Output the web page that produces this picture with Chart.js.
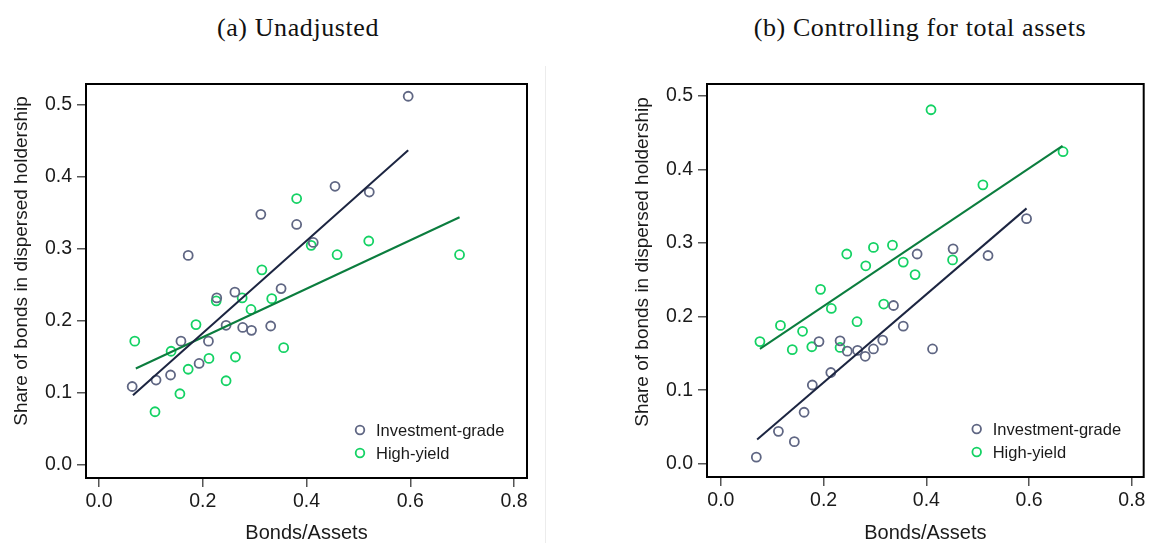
<!DOCTYPE html>
<html>
<head>
<meta charset="utf-8">
<script src="https://cdn.jsdelivr.net/npm/chart.js@4.4.1/dist/chart.umd.min.js"></script>
<style>
  html, body { margin: 0; padding: 0; background: #fff; }
  body { width: 1150px; height: 543px; position: relative; overflow: hidden; }
  .panel { position: absolute; top: 0; height: 543px; }
  .title { position: absolute; top: 10px; font-family: "Liberation Serif", serif; font-size: 26px;
           letter-spacing: 0.6px; color: #111; text-align: center; white-space: nowrap; line-height: 36px; }
  .sep { position: absolute; left: 545px; top: 66px; width: 1px; height: 477px; background: #ececec; }
</style>
</head>
<body>
<div class="title" style="left:148px;width:300px">(a) Unadjusted</div>
<div class="title" style="left:720px;width:400px">(b) Controlling for total assets</div>
<div class="sep"></div>
<div class="panel" style="left:0;width:545px"><canvas id="cA" width="545" height="543"></canvas></div>
<div class="panel" style="left:621px;width:529px"><canvas id="cB" width="529" height="543"></canvas></div>
<script>
// Axis ticks and labels
const xTickValues = [0, 0.2, 0.4, 0.6, 0.8];
const yTickValues = [0, 0.1, 0.2, 0.3, 0.4, 0.5];
const seriesNames = ['Investment-grade', 'High-yield'];
const xAxisTitle = 'Bonds/Assets';
const yAxisTitle = 'Share of bonds in dispersed holdership';

// (a) Unadjusted: binned Bonds/Assets vs. dispersed share
const igBondsAssetsA = [0.064, 0.110, 0.138, 0.158, 0.172, 0.193, 0.211, 0.227, 0.245, 0.262,
                        0.277, 0.294, 0.312, 0.331, 0.351, 0.381, 0.413, 0.455, 0.521, 0.596];
const igShareA       = [0.109, 0.118, 0.125, 0.172, 0.291, 0.141, 0.172, 0.232, 0.194, 0.240,
                        0.191, 0.187, 0.348, 0.193, 0.245, 0.334, 0.309, 0.387, 0.379, 0.512];
const hyBondsAssetsA = [0.069, 0.108, 0.139, 0.156, 0.172, 0.187, 0.212, 0.226, 0.245, 0.263,
                        0.276, 0.293, 0.314, 0.333, 0.356, 0.381, 0.409, 0.459, 0.520, 0.695];
const hyShareA       = [0.172, 0.074, 0.158, 0.099, 0.133, 0.195, 0.148, 0.228, 0.117, 0.150,
                        0.232, 0.216, 0.271, 0.231, 0.163, 0.370, 0.305, 0.292, 0.311, 0.292];
const igFitXA = [0.0655, 0.596];
const igFitYA = [0.097, 0.437];
const hyFitXA = [0.071, 0.695];
const hyFitYA = [0.134, 0.344];

// (b) Controlling for total assets
const igBondsAssetsB = [0.069, 0.112, 0.143, 0.162, 0.178, 0.191, 0.214, 0.232, 0.246, 0.266,
                        0.281, 0.297, 0.315, 0.336, 0.355, 0.382, 0.412, 0.452, 0.520, 0.595];
const igShareB       = [0.009, 0.044, 0.030, 0.070, 0.107, 0.166, 0.124, 0.167, 0.153, 0.154,
                        0.146, 0.156, 0.168, 0.215, 0.187, 0.285, 0.156, 0.292, 0.283, 0.333];
const hyBondsAssetsB = [0.076, 0.116, 0.139, 0.159, 0.177, 0.194, 0.215, 0.232, 0.245, 0.265,
                        0.282, 0.297, 0.317, 0.334, 0.355, 0.378, 0.409, 0.451, 0.510, 0.666];
const hyShareB       = [0.166, 0.188, 0.155, 0.180, 0.159, 0.237, 0.211, 0.158, 0.285, 0.193,
                        0.269, 0.294, 0.217, 0.297, 0.274, 0.257, 0.481, 0.277, 0.379, 0.424];
const igFitXB = [0.0706, 0.595];
const igFitYB = [0.033, 0.347];
const hyFitXB = [0.076, 0.665];
const hyFitYB = [0.156, 0.432];

const IG_MARKER = '#5f6683';
const HY_MARKER = '#14d264';
const IG_LINE = '#1c2541';
const HY_LINE = '#0b7d3e';
const SANS = '"Liberation Sans", Arial, sans-serif';
const TEXT = '#1a1a1a';

function pts(xs, ys) { return xs.map((x, i) => ({ x: x, y: ys[i] })); }

function scatterSet(label, xs, ys, color) {
  return { type: 'scatter', label: label, data: pts(xs, ys), borderColor: color,
           backgroundColor: 'rgba(0,0,0,0)', pointRadius: 4.5, pointBorderWidth: 1.8,
           pointHoverRadius: 4.5, order: 2 };
}
function fitSet(xs, ys, color) {
  return { type: 'line', label: '', data: pts(xs, ys), borderColor: color, borderWidth: 2,
           pointRadius: 0, fill: false, order: 1 };
}

// Frame, axis titles and in-plot legend
const decor = {
  id: 'decor',
  afterDraw(chart, args, opts) {
    const { ctx, chartArea: a } = chart;
    ctx.save();
    ctx.strokeStyle = '#000';
    ctx.lineWidth = 2;
    ctx.strokeRect(a.left, a.top, a.right - a.left, a.bottom - a.top);

    ctx.fillStyle = TEXT;
    ctx.textAlign = 'center';
    ctx.textBaseline = 'middle';
    ctx.font = '20px ' + SANS;
    ctx.fillText(xAxisTitle, (a.left + a.right) / 2, 533);
    ctx.save();
    ctx.translate(22, opts.yTitleCenter);
    ctx.rotate(-Math.PI / 2);
    ctx.font = '19px ' + SANS;
    ctx.fillText(yAxisTitle, 0, 0);
    ctx.restore();

    ctx.font = '16.5px ' + SANS;
    ctx.textAlign = 'left';
    const sets = chart.data.datasets.filter(d => d.type === 'scatter');
    sets.forEach((d, i) => {
      const y = a.bottom - 48 + 23 * i;
      ctx.beginPath();
      ctx.arc(a.right - 167, y, 4.3, 0, Math.PI * 2);
      ctx.strokeStyle = d.borderColor;
      ctx.lineWidth = 1.8;
      ctx.stroke();
      ctx.fillStyle = TEXT;
      ctx.fillText(d.label, a.right - 151, y + 1);
    });
    ctx.restore();
  }
};

function makeChart(id, datasets, yRange, xRange, padRight, xHeight, yTitleCenter) {
  return new Chart(document.getElementById(id), {
    data: { datasets: datasets },
    plugins: [decor],
    options: {
      responsive: false,
      animation: false,
      layout: { padding: { top: 84, right: padRight, bottom: 0, left: 0 } },
      plugins: { legend: { display: false }, tooltip: { enabled: false }, decor: { yTitleCenter: yTitleCenter } },
      scales: {
        x: {
          type: 'linear', min: xRange[0], max: xRange[1],
          afterFit: s => { s.height = xHeight; },
          afterBuildTicks: s => { s.ticks = xTickValues.map(v => ({ value: v })); },
          grid: { drawOnChartArea: false, drawTicks: true, tickLength: 9, color: '#555', lineWidth: 1.5 },
          border: { display: false },
          ticks: { font: { family: SANS, size: 19.5 }, color: TEXT, padding: 3, maxRotation: 0,
                   autoSkip: false, callback: v => v.toFixed(1) }
        },
        y: {
          type: 'linear', min: yRange[0], max: yRange[1],
          afterFit: s => { s.width = 86; },
          afterBuildTicks: s => { s.ticks = yTickValues.map(v => ({ value: v })); },
          grid: { drawOnChartArea: false, drawTicks: true, tickLength: 9, color: '#555', lineWidth: 1.5 },
          border: { display: false },
          ticks: { font: { family: SANS, size: 19.5 }, color: TEXT, padding: 5,
                   autoSkip: false, callback: v => v.toFixed(1) }
        }
      }
    }
  });
}

makeChart('cA', [
  scatterSet(seriesNames[0], igBondsAssetsA, igShareA, IG_MARKER),
  scatterSet(seriesNames[1], hyBondsAssetsA, hyShareA, HY_MARKER),
  fitSet(igFitXA, igFitYA, IG_LINE),
  fitSet(hyFitXA, hyFitYA, HY_LINE)
], [-0.018, 0.529], [-0.025, 0.825], 18, 65, 261);

makeChart('cB', [
  scatterSet(seriesNames[0], igBondsAssetsB, igShareB, IG_MARKER),
  scatterSet(seriesNames[1], hyBondsAssetsB, hyShareB, HY_MARKER),
  fitSet(igFitXB, igFitYB, IG_LINE),
  fitSet(hyFitXB, hyFitYB, HY_LINE)
], [-0.018, 0.516], [-0.027, 0.823], 2, 66, 262);
</script>
</body>
</html>
